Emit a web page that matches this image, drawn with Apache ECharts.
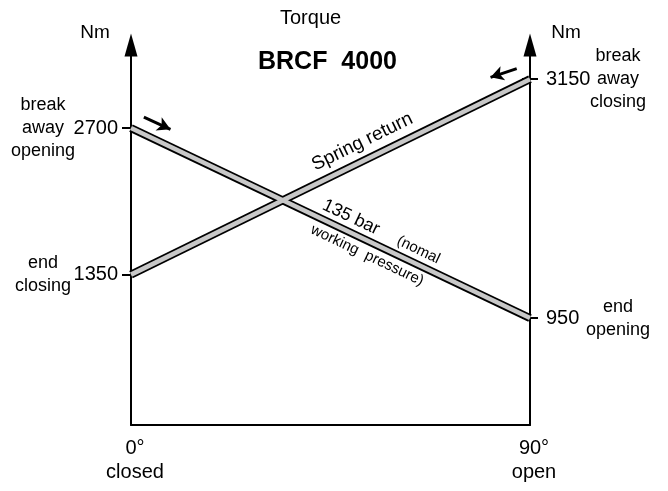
<!DOCTYPE html>
<html><head><meta charset="utf-8">
<script src="https://cdn.jsdelivr.net/npm/echarts@6/dist/echarts.min.js"></script>
<style>html,body{margin:0;padding:0;background:#fff}#c{width:668px;height:491px}</style>
</head><body><div id="c"></div>
<script>
// ---- data ----
const angles = [0, 90];
const angleNames = ['closed', 'open'];
const springReturn = [1350, 3150];
const bar135 = [2700, 950];
const leftTicks = [1350, 2700];
const leftNotes = ['end\nclosing', 'break\naway\nopening'];
const rightTicks = [950, 3150];
const rightNotes = ['end\nopening', 'break\naway\nclosing'];
const arrowNotes = [[[2.9, 2800], [8.9, 2688]], [[87.0, 3248], [81.1, 3167]]];
const yRange = [-35, 3465];

const FONT = '"Liberation Sans", Arial, sans-serif';
const BLACK = '#000';
const GRAY = '#c8c8c8';

const chart = echarts.init(document.getElementById('c'), null, {renderer: 'canvas'});

function mainAxis(pos, ticks, namePad, labelMargin) {
  return {
    type: 'value', position: pos, min: yRange[0], max: yRange[1],
    name: 'Nm', nameLocation: 'end', nameGap: 3,
    nameTextStyle: {fontSize: 19, color: BLACK, fontFamily: FONT, padding: namePad},
    axisLine: {show: true, symbol: ['none', 'triangle'], symbolSize: [13, 23],
      lineStyle: {color: BLACK, width: 2}},
    axisTick: {show: false},
    splitLine: {show: false},
    axisLabel: {customValues: ticks, formatter: v => String(v), margin: labelMargin,
      fontSize: 20, color: BLACK, fontFamily: FONT}
  };
}
function noteAxis(pos, ticks, notes, offset, tickLen, margin) {
  return {
    type: 'value', position: pos, min: yRange[0], max: yRange[1], offset: offset,
    axisLine: {show: false},
    axisTick: {show: true, customValues: ticks, length: tickLen, lineStyle: {color: BLACK, width: 2}},
    splitLine: {show: false},
    axisLabel: {customValues: ticks, formatter: v => notes[ticks.indexOf(v)],
      align: 'center', margin: margin, fontSize: 18, lineHeight: 23, color: BLACK, fontFamily: FONT}
  };
}

const lineData = vals => angles.map((a, i) => [a, vals[i]]);
const tLabel = (text, pos, dist, padLeft, size) => ({
  show: true, formatter: text, position: pos, distance: [0, dist], opacity: 1,
  padding: [0, 0, 0, padLeft], fontSize: size, color: BLACK, fontFamily: FONT
});
const seg = (vals, label) => [
  {coord: [angles[0], vals[0]], label: label},
  {coord: [angles[1], vals[1]], label: label}
];

chart.setOption({
  animation: false,
  backgroundColor: '#fff',
  title: [
    {text: 'Torque', left: 280, top: 8, padding: 0,
      textStyle: {fontSize: 20, fontWeight: 'normal', color: BLACK, fontFamily: FONT}},
    {text: 'BRCF  4000', left: 258, top: 50, padding: 0,
      textStyle: {fontSize: 25, fontWeight: 'bold', color: BLACK, fontFamily: FONT}}
  ],
  grid: {left: 131, right: 138, top: 45, bottom: 66, containLabel: false, outerBoundsMode: 'none'},
  xAxis: {
    type: 'value', min: angles[0], max: angles[1], interval: 90,
    axisLine: {onZero: false, lineStyle: {color: BLACK, width: 2}},
    axisTick: {show: false}, splitLine: {show: false},
    axisLabel: {formatter: v => v + '°\n' + angleNames[angles.indexOf(v)],
      fontSize: 20, lineHeight: 24, margin: 11, padding: [0, 0, 0, 8], color: BLACK, fontFamily: FONT}
  },
  yAxis: [
    mainAxis('left', leftTicks, [0, 72, 0, 0], 13),
    noteAxis('left', leftTicks, leftNotes, -6, 15, 94),
    mainAxis('right', rightTicks, [0, 0, 0, 72], 16),
    noteAxis('right', rightTicks, rightNotes, -8, 16, 96)
  ],
  series: [
    {type: 'line', name: 'Spring return', data: lineData(springReturn), symbol: 'none',
      lineStyle: {color: BLACK, width: 8}, z: 2},
    {type: 'line', name: '135 bar', data: lineData(bar135), symbol: 'none',
      lineStyle: {color: BLACK, width: 8}, z: 2,
      markLine: {silent: true, symbol: ['none', 'arrow'], symbolSize: [11, 13],
        lineStyle: {color: BLACK, width: 3, type: 'solid', opacity: 1},
        label: {show: false},
        data: arrowNotes.map(a => [{coord: a[0]}, {coord: a[1]}])}},
    {type: 'line', name: 'Spring return fill', data: lineData(springReturn), symbol: 'none',
      lineStyle: {color: GRAY, width: 4.5}, z: 3,
      markLine: {silent: true, symbol: ['none', 'none'],
        lineStyle: {color: 'rgba(0,0,0,0)', width: 0, opacity: 1},
        data: [seg(springReturn, tLabel('Spring return', 'insideMiddleTop', 8, 88, 19))]}},
    {type: 'line', name: '135 bar fill', data: lineData(bar135), symbol: 'none',
      lineStyle: {color: GRAY, width: 4.5}, z: 3,
      markLine: {silent: true, symbol: ['none', 'none'],
        lineStyle: {color: 'rgba(0,0,0,0)', width: 0, opacity: 1},
        data: [
          seg(bar135, tLabel('135 bar', 'insideMiddleTop', 5, 32, 18)),
          seg(bar135, tLabel('(nomal', 'insideMiddleTop', 6, 182, 15)),
          seg(bar135, tLabel('working  pressure)', 'insideMiddleBottom', 6, 94, 15))
        ]}}
  ]
});
</script>
</body></html>
